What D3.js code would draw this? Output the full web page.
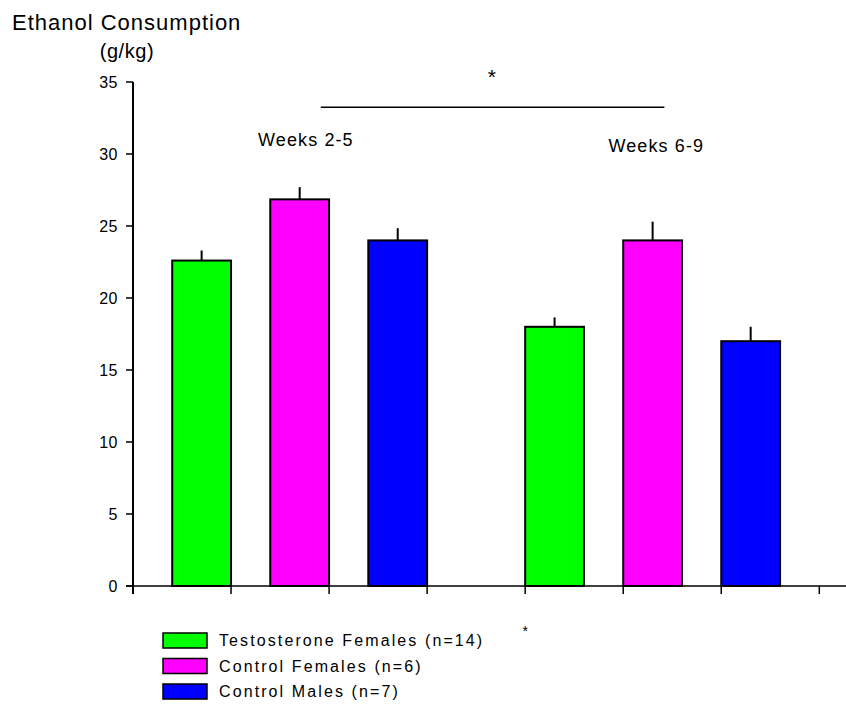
<!DOCTYPE html>
<html>
<head>
<meta charset="utf-8">
<script src="https://cdn.jsdelivr.net/npm/d3@7"></script>
<style>
  body { margin: 0; background: #fff; }
  svg { font-family: "Liberation Sans", Arial, sans-serif; }
</style>
</head>
<body>
<svg id="chart" width="846" height="706"></svg>
<script>
// data
const periods = ["Weeks 2-5", "Weeks 6-9"];
const groups = ["Testosterone Females (n=14)", "Control Females (n=6)", "Control Males (n=7)"];
const colors = ["#00ff00", "#ff00ff", "#0000ff"];
const means = [
  [22.6, 26.85, 24.0],   // weeks 2-5
  [18.0, 24.0, 17.0]     // weeks 6-9
];
const errs = [
  [0.7, 0.85, 0.85],
  [0.65, 1.3, 1.0]
];
const yTicks = [0, 5, 10, 15, 20, 25, 30, 35];

const svg = d3.select("#chart");

const x = d3.scaleLinear().domain([0, 7]).range([133, 819.3]);
const y = d3.scaleLinear().domain([0, 35]).range([586, 82]);
const barW = 0.6;

// bars: first period right-aligned to ticks 1..3, second left-aligned to ticks 4..6
const bars = [];
means.forEach((row, p) => {
  row.forEach((v, g) => {
    const left = p === 0 ? g + 1 - barW : g + 4;
    bars.push({ p, g, v, e: errs[p][g], left });
  });
});

// y axis
svg.append("line")
  .attr("x1", x(0)).attr("x2", x(0))
  .attr("y1", y(0)).attr("y2", y(35))
  .attr("stroke", "#000").attr("stroke-width", 2);

yTicks.forEach(t => {
  svg.append("line")
    .attr("x1", x(0) - 7).attr("x2", x(0))
    .attr("y1", y(t)).attr("y2", y(t))
    .attr("stroke", "#000").attr("stroke-width", 1.5);
  svg.append("text")
    .attr("x", 117.5).attr("y", y(t))
    .attr("dy", "0.35em")
    .attr("text-anchor", "end")
    .attr("font-size", "16px")
    .attr("letter-spacing", "0.2px")
    .attr("fill", "#000")
    .text(t);
});

// x axis
svg.append("line")
  .attr("x1", x(0) - 7).attr("x2", 846)
  .attr("y1", y(0)).attr("y2", y(0))
  .attr("stroke", "#000").attr("stroke-width", 1.5);

d3.range(0, 8).forEach(k => {
  svg.append("line")
    .attr("x1", x(k)).attr("x2", x(k))
    .attr("y1", y(0)).attr("y2", y(0) + 8)
    .attr("stroke", "#000").attr("stroke-width", k === 0 ? 2 : 1.5);
});

// error bars (upper only)
svg.selectAll(".err").data(bars).join("line")
  .attr("class", "err")
  .attr("x1", d => x(d.left + barW / 2)).attr("x2", d => x(d.left + barW / 2))
  .attr("y1", d => y(d.v)).attr("y2", d => y(d.v + d.e))
  .attr("stroke", "#000").attr("stroke-width", 2);

svg.selectAll(".bar").data(bars).join("rect")
  .attr("class", "bar")
  .attr("x", d => x(d.left))
  .attr("y", d => y(d.v))
  .attr("width", d => x(d.left + barW) - x(d.left))
  .attr("height", d => y(0) - y(d.v))
  .attr("fill", d => colors[d.g])
  .attr("stroke", "#000").attr("stroke-width", 2);

// significance line and stars
svg.append("line")
  .attr("x1", x(1.915)).attr("x2", x(5.42))
  .attr("y1", y(33.25)).attr("y2", y(33.25))
  .attr("stroke", "#000").attr("stroke-width", 1.5);
svg.append("text")
  .attr("x", x(3.66)).attr("y", y(34.85))
  .attr("text-anchor", "middle").attr("font-size", "21px")
  .text("*");
svg.append("text")
  .attr("x", x(4.0)).attr("y", y(-3.5))
  .attr("text-anchor", "middle").attr("font-size", "14px")
  .text("*");

// period labels
const periodPos = [[1.276, 30.56], [4.85, 30.16]];
periods.forEach((t, i) => {
  svg.append("text")
    .attr("x", x(periodPos[i][0])).attr("y", y(periodPos[i][1]))
    .attr("font-size", "18px")
    .attr("letter-spacing", "1.1px")
    .attr("fill", "#000")
    .text(t);
});

// title
svg.append("text")
  .attr("x", 12).attr("y", 30)
  .attr("font-size", "22px").attr("letter-spacing", "1px")
  .attr("fill", "#000")
  .text("Ethanol Consumption");
svg.append("text")
  .attr("x", 127).attr("y", 58)
  .attr("text-anchor", "middle")
  .attr("font-size", "20px").attr("letter-spacing", "0.6px")
  .attr("fill", "#000")
  .text("(g/kg)");

// legend
const legend = svg.append("g").attr("transform", "translate(163, 633)");
groups.forEach((g, i) => {
  const row = legend.append("g").attr("transform", `translate(0, ${i * 25.5})`);
  row.append("rect")
    .attr("width", 44).attr("height", 15)
    .attr("fill", colors[i])
    .attr("stroke", "#000").attr("stroke-width", 1.5);
  row.append("text")
    .attr("x", 56).attr("y", 7.5)
    .attr("dy", "0.36em")
    .attr("font-size", "16px")
    .attr("letter-spacing", "2.1px")
    .attr("fill", "#000")
    .text(g);
});
</script>
</body>
</html>
